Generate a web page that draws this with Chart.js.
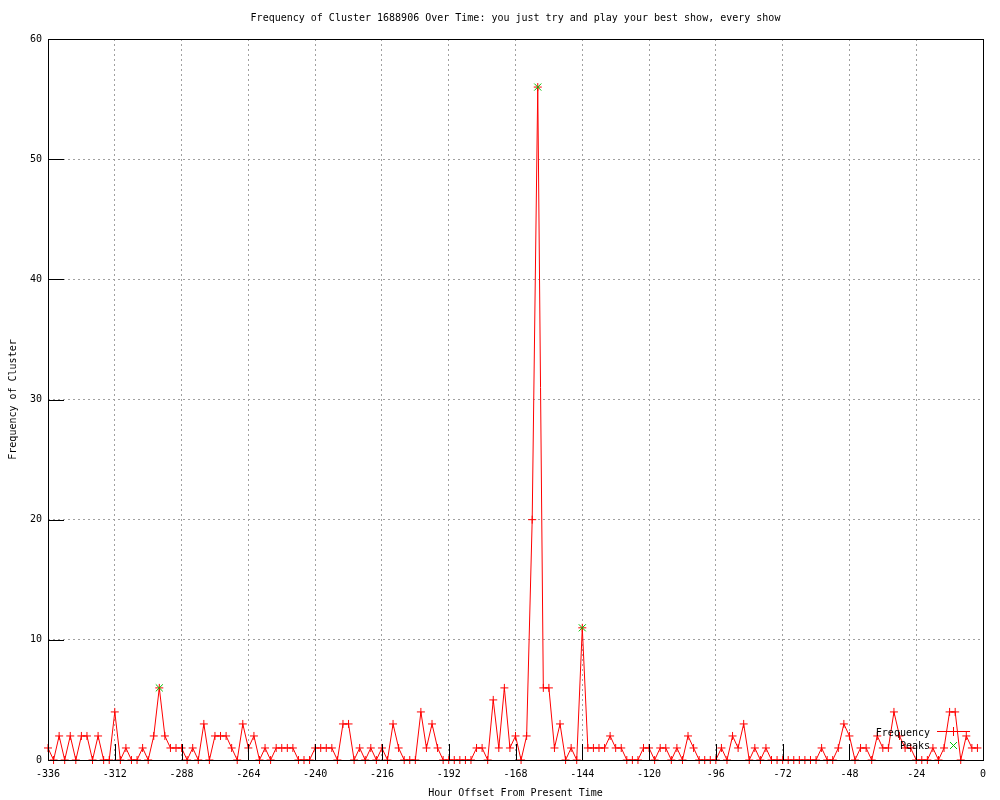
<!DOCTYPE html>
<html>
<head>
<meta charset="utf-8">
<title>Frequency of Cluster 1688906</title>
<script src="https://cdn.jsdelivr.net/npm/chart.js@4.4.0/dist/chart.umd.min.js"></script>
<style>
  html, body { margin: 0; padding: 0; background: #fff; }
</style>
</head>
<body>
<canvas id="chart" width="1000" height="800"></canvas>
<script>
// horas (cada 2 h) y frecuencia
const hours = [
  -336, -334, -332, -330, -328, -326, -324, -322, -320, -318,
  -316, -314, -312, -310, -308, -306, -304, -302, -300, -298,
  -296, -294, -292, -290, -288, -286, -284, -282, -280, -278,
  -276, -274, -272, -270, -268, -266, -264, -262, -260, -258,
  -256, -254, -252, -250, -248, -246, -244, -242, -240, -238,
  -236, -234, -232, -230, -228, -226, -224, -222, -220, -218,
  -216, -214, -212, -210, -208, -206, -204, -202, -200, -198,
  -196, -194, -192, -190, -188, -186, -184, -182, -180, -178,
  -176, -174, -172, -170, -168, -166, -164, -162, -160, -158,
  -156, -154, -152, -150, -148, -146, -144, -142, -140, -138,
  -136, -134, -132, -130, -128, -126, -124, -122, -120, -118,
  -116, -114, -112, -110, -108, -106, -104, -102, -100, -98,
  -96, -94, -92, -90, -88, -86, -84, -82, -80, -78,
  -76, -74, -72, -70, -68, -66, -64, -62, -60, -58,
  -56, -54, -52, -50, -48, -46, -44, -42, -40, -38,
  -36, -34, -32, -30, -28, -26, -24, -22, -20, -18,
  -16, -14, -12, -10, -8, -6, -4, -2
];
const frequency = [
  1, 0, 2, 0, 2, 0, 2, 2, 0, 2,
  0, 0, 4, 0, 1, 0, 0, 1, 0, 2,
  6, 2, 1, 1, 1, 0, 1, 0, 3, 0,
  2, 2, 2, 1, 0, 3, 1, 2, 0, 1,
  0, 1, 1, 1, 1, 0, 0, 0, 1, 1,
  1, 1, 0, 3, 3, 0, 1, 0, 1, 0,
  1, 0, 3, 1, 0, 0, 0, 4, 1, 3,
  1, 0, 0, 0, 0, 0, 0, 1, 1, 0,
  5, 1, 6, 1, 2, 0, 2, 20, 56, 6,
  6, 1, 3, 0, 1, 0, 11, 1, 1, 1,
  1, 2, 1, 1, 0, 0, 0, 1, 1, 0,
  1, 1, 0, 1, 0, 2, 1, 0, 0, 0,
  0, 1, 0, 2, 1, 3, 0, 1, 0, 1,
  0, 0, 0, 0, 0, 0, 0, 0, 0, 1,
  0, 0, 1, 3, 2, 0, 1, 1, 0, 2,
  1, 1, 4, 2, 1, 1, 0, 0, 0, 1,
  0, 1, 4, 4, 0, 2, 1, 1
];
const peakHours = [-296, -160, -144];
const peakValues = [6, 56, 11];

const xTicks = [-336, -312, -288, -264, -240, -216, -192, -168, -144, -120, -96, -72, -48, -24, 0];
const yTicks = [0, 10, 20, 30, 40, 50, 60];

const mono = { family: 'DejaVu Sans Mono', size: 10, lineHeight: 1.2, weight: 'normal' };
const tickLen = 16;

// marco negro + marcas de los ejes (estilo gnuplot)
const frame = {
  id: 'frame',
  afterDatasetsDraw(chart) {
    const { ctx, chartArea: a, scales } = chart;
    ctx.save();
    ctx.strokeStyle = '#000';
    ctx.lineWidth = 1;
    ctx.beginPath();
    xTicks.forEach(v => {
      const px = Math.round(scales.x.getPixelForValue(v)) + 0.5;
      ctx.moveTo(px, a.bottom);
      ctx.lineTo(px, a.bottom - tickLen);
    });
    yTicks.forEach(v => {
      const py = Math.round(scales.y.getPixelForValue(v)) + 0.5;
      ctx.moveTo(a.left, py);
      ctx.lineTo(a.left + tickLen, py);
    });
    ctx.stroke();
    ctx.strokeRect(Math.round(a.left) + 0.5, Math.round(a.top) + 0.5,
      Math.round(a.right - a.left), Math.round(a.bottom - a.top));
    ctx.restore();
  },
  afterDraw(chart) {
    // leyenda dentro del area, abajo a la derecha
    const ctx = chart.ctx;
    ctx.save();
    ctx.font = '10px "DejaVu Sans Mono"';
    ctx.fillStyle = '#000';
    ctx.textAlign = 'right';
    ctx.textBaseline = 'middle';
    ctx.fillText('Frequency', 930, 733);
    ctx.fillText('Peaks', 930, 746);
    ctx.strokeStyle = 'red';
    ctx.lineWidth = 1;
    ctx.beginPath();
    ctx.moveTo(937, 731.5); ctx.lineTo(970, 731.5);
    ctx.moveTo(953.5, 727); ctx.lineTo(953.5, 736);
    ctx.stroke();
    ctx.strokeStyle = '#00c000';
    ctx.beginPath();
    ctx.moveTo(950, 742); ctx.lineTo(957, 749);
    ctx.moveTo(957, 742); ctx.lineTo(950, 749);
    ctx.stroke();
    ctx.restore();
  }
};

const ctx = document.getElementById('chart').getContext('2d');
const chart = new Chart(ctx, {
  type: 'line',
  data: {
    datasets: [{
      label: 'Frequency',
      data: hours.map((h, i) => ({ x: h, y: frequency[i] })),
      borderColor: 'red',
      borderWidth: 1,
      tension: 0,
      pointStyle: 'cross',
      pointRadius: 4,
      pointBorderColor: 'red',
      pointBorderWidth: 1,
      clip: false,
      order: 1
    }, {
      label: 'Peaks',
      data: peakHours.map((h, i) => ({ x: h, y: peakValues[i] })),
      showLine: false,
      borderColor: '#00c000',
      pointStyle: 'crossRot',
      pointRadius: 5,
      pointBorderColor: '#00c000',
      pointBorderWidth: 1,
      clip: false,
      order: 0
    }]
  },
  options: {
    responsive: false,
    animation: false,
    events: [],
    layout: { padding: { top: 0, right: 17, bottom: 0, left: 0 } },
    plugins: {
      legend: { display: false },
      tooltip: { enabled: false },
      title: {
        display: true,
        fullSize: false,
        text: 'Frequency of Cluster 1688906 Over Time: you just try and play your best show, every show',
        color: '#000',
        font: mono,
        padding: { top: 12, bottom: 15 }
      }
    },
    scales: {
      x: {
        type: 'linear',
        min: -336,
        max: 0,
        afterBuildTicks: s => { s.ticks = xTicks.map(v => ({ value: v })); },
        afterFit: s => { s.height = 40; },
        grid: { color: '#a0a0a0', lineWidth: 1, drawTicks: false },
        border: { display: false, dash: [2, 3] },
        ticks: { color: '#000', font: mono, padding: 8, maxRotation: 0, autoSkip: false },
        title: { display: true, text: 'Hour Offset From Present Time', color: '#000', font: mono, padding: { top: 0, bottom: 1 } }
      },
      y: {
        min: 0,
        max: 60,
        afterBuildTicks: s => { s.ticks = yTicks.map(v => ({ value: v })); },
        afterFit: s => { s.width = 48; },
        grid: { color: '#a0a0a0', lineWidth: 1, drawTicks: false },
        border: { display: false, dash: [2, 3] },
        ticks: { color: '#000', font: mono, padding: 6 },
        title: { display: true, text: 'Frequency of Cluster', color: '#000', font: mono, padding: { top: 7, bottom: 0 } }
      }
    }
  },
  plugins: [frame]
});
</script>
</body>
</html>
